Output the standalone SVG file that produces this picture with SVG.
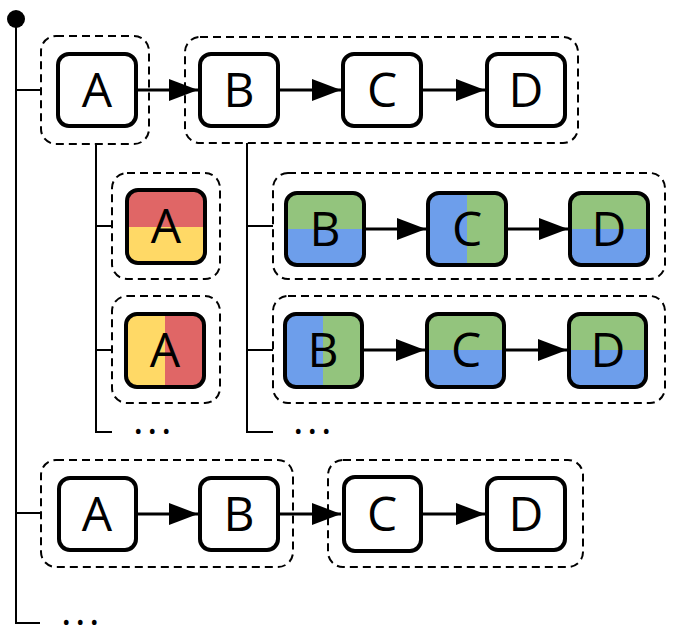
<svg xmlns="http://www.w3.org/2000/svg" width="673" height="637" viewBox="0 0 673 637">
<style>
.node{stroke:#000;stroke-width:4}
.w{fill:#fff}
.grp{fill:none;stroke:#000;stroke-width:2;stroke-dasharray:8 5}
.lbl{font-family:"Open Sans","Noto Sans",sans-serif;font-size:48px;text-anchor:middle;fill:#000}
.dots{font-family:"Open Sans","Noto Sans",sans-serif;font-size:40px;fill:#000;letter-spacing:3.5px}
.tree{fill:none;stroke:#000;stroke-width:2}
.arr{fill:none;stroke:#000;stroke-width:3;marker-end:url(#ah)}
</style>
<defs>
<marker id="ah" markerUnits="userSpaceOnUse" markerWidth="30" markerHeight="24" refX="29" refY="11" orient="auto">
<path d="M0,0 L29,11 L0,22 z" fill="#000"/>
</marker>
<linearGradient id="ry" x1="0" y1="0" x2="0" y2="1"><stop offset="0.5" stop-color="#e06666"/><stop offset="0.5" stop-color="#ffd966"/></linearGradient>
<linearGradient id="yr" x1="0" y1="0" x2="1" y2="0"><stop offset="0.5" stop-color="#ffd966"/><stop offset="0.5" stop-color="#e06666"/></linearGradient>
<linearGradient id="gb" x1="0" y1="0" x2="0" y2="1"><stop offset="0.5" stop-color="#93c47d"/><stop offset="0.5" stop-color="#6d9eeb"/></linearGradient>
<linearGradient id="bg" x1="0" y1="0" x2="1" y2="0"><stop offset="0.5" stop-color="#6d9eeb"/><stop offset="0.5" stop-color="#93c47d"/></linearGradient>
</defs>

<g id="tree">
<circle cx="16" cy="19" r="9" fill="#000"/>
<path class="tree" d="M16,19 V623 H40 M16,90 H41 M16,513 H41"/>
<path class="tree" d="M96,144 V432 H112 M96,226 H112 M96,350 H112"/>
<path class="tree" d="M247,143 V432 H273 M247,226 H273 M247,350 H273"/>
<text class="dots" x="133" y="434">...</text>
<text class="dots" x="293" y="434">...</text>
<text class="dots" x="61" y="625">...</text>
</g>

<g id="groups">
<rect id="g-top-a" class="grp" x="41" y="36" width="108" height="108" rx="15"/>
<rect id="g-top-bcd" class="grp" x="185" y="37" width="393" height="106" rx="15"/>
<rect id="g-mid-a1" class="grp" x="112" y="173" width="108" height="106" rx="15"/>
<rect id="g-mid-a2" class="grp" x="112" y="296" width="108" height="107" rx="15"/>
<rect id="g-mid-bcd1" class="grp" x="273" y="173" width="392" height="106" rx="15"/>
<rect id="g-mid-bcd2" class="grp" x="273" y="296" width="392" height="107" rx="15"/>
<rect id="g-bot-ab" class="grp" x="41" y="460" width="252" height="107" rx="15"/>
<rect id="g-bot-cd" class="grp" x="328" y="460" width="255" height="107" rx="15"/>
</g>

<g id="connectors">
<line class="arr" x1="138" y1="90" x2="198" y2="90"/>
<line class="arr" x1="280" y1="90" x2="341" y2="90"/>
<line class="arr" x1="423" y1="90" x2="485" y2="90"/>
<line class="arr" x1="366" y1="229" x2="426" y2="229"/>
<line class="arr" x1="508" y1="229" x2="568" y2="229"/>
<line class="arr" x1="364" y1="350" x2="425" y2="350"/>
<line class="arr" x1="506" y1="350" x2="567" y2="350"/>
<line class="arr" x1="138" y1="514" x2="198" y2="514"/>
<line class="arr" x1="280" y1="514" x2="341" y2="514"/>
<line class="arr" x1="423" y1="514" x2="485" y2="514"/>
</g>

<g id="n-top-a"><rect class="node w" x="58" y="54" width="78" height="72" rx="11"/><text class="lbl" x="97" y="107">A</text></g>
<g id="n-top-b"><rect class="node w" x="200" y="54" width="78" height="72" rx="11"/><text class="lbl" x="239" y="107">B</text></g>
<g id="n-top-c"><rect class="node w" x="343" y="54" width="78" height="72" rx="11"/><text class="lbl" x="382" y="107">C</text></g>
<g id="n-top-d"><rect class="node w" x="487" y="54" width="78" height="72" rx="11"/><text class="lbl" x="526" y="107">D</text></g>

<g id="n-a1"><rect class="node" x="127" y="190" width="78" height="73" rx="11" fill="url(#ry)"/><text class="lbl" x="166" y="243">A</text></g>
<g id="n-a2"><rect class="node" x="126" y="314" width="78" height="73" rx="11" fill="url(#yr)"/><text class="lbl" x="165" y="367">A</text></g>

<g id="n-r1-b"><rect class="node" x="286" y="193" width="78" height="72" rx="11" fill="url(#gb)"/><text class="lbl" x="325" y="246">B</text></g>
<g id="n-r1-c"><rect class="node" x="428" y="193" width="78" height="72" rx="11" fill="url(#bg)"/><text class="lbl" x="467" y="246">C</text></g>
<g id="n-r1-d"><rect class="node" x="570" y="193" width="78" height="72" rx="11" fill="url(#gb)"/><text class="lbl" x="609" y="246">D</text></g>

<g id="n-r2-b"><rect class="node" x="285" y="314" width="77" height="73" rx="11" fill="url(#bg)"/><text class="lbl" x="323" y="367">B</text></g>
<g id="n-r2-c"><rect class="node" x="427" y="314" width="77" height="73" rx="11" fill="url(#gb)"/><text class="lbl" x="466" y="367">C</text></g>
<g id="n-r2-d"><rect class="node" x="569" y="314" width="77" height="73" rx="11" fill="url(#gb)"/><text class="lbl" x="608" y="367">D</text></g>

<g id="n-bot-a"><rect class="node w" x="59" y="478" width="77" height="72" rx="11"/><text class="lbl" x="97" y="531">A</text></g>
<g id="n-bot-b"><rect class="node w" x="200" y="478" width="78" height="72" rx="11"/><text class="lbl" x="239" y="531">B</text></g>
<g id="n-bot-c"><rect class="node w" x="344" y="477" width="77" height="74" rx="11"/><text class="lbl" x="382" y="531">C</text></g>
<g id="n-bot-d"><rect class="node w" x="487" y="478" width="78" height="72" rx="11"/><text class="lbl" x="526" y="531">D</text></g>
</svg>
